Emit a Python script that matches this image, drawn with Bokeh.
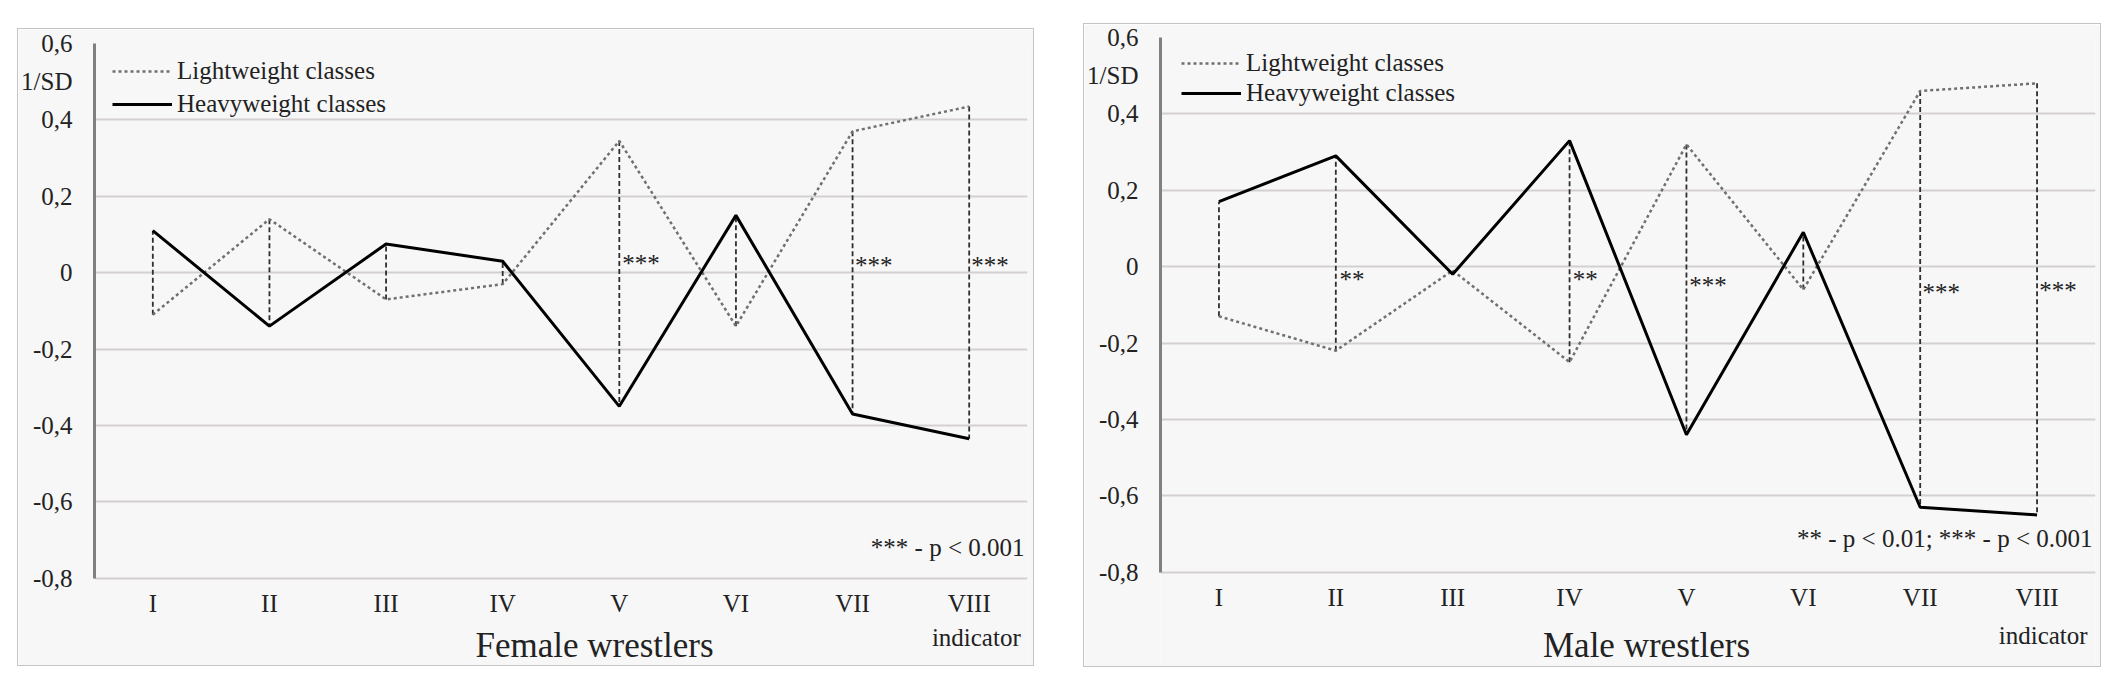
from bokeh.plotting import figure
from bokeh.models import (FactorRange, Range1d, FixedTicker, CustomJSTickFormatter,
                          Legend, LegendItem, Label, ColumnDataSource, Spacer)
from bokeh.layouts import row, column
from bokeh.embed import file_html
from bokeh.resources import INLINE

# ---------------- data ----------------
categories = ["I", "II", "III", "IV", "V", "VI", "VII", "VIII"]
female_light = [-0.11, 0.14, -0.07, -0.03, 0.345, -0.14, 0.37, 0.435]
female_heavy = [0.11, -0.14, 0.075, 0.03, -0.35, 0.15, -0.37, -0.435]
male_light = [-0.13, -0.22, -0.01, -0.25, 0.32, -0.06, 0.46, 0.48]
male_heavy = [0.17, 0.29, -0.02, 0.33, -0.44, 0.09, -0.63, -0.65]

female_sig_cats = ["V", "VII", "VIII"]
female_sig_marks = ["***", "***", "***"]
female_sig_y = [0.035, 0.03, 0.03]
male_sig_cats = ["II", "IV", "V", "VII", "VIII"]
male_sig_marks = ["**", "**", "***", "***", "***"]
male_sig_y = [-0.023, -0.023, -0.04, -0.057, -0.053]

y_ticks = [-0.8, -0.6, -0.4, -0.2, 0, 0.2, 0.4, 0.6]
sd_tick = 0.5
indicator_label = "indicator"
female_title = "Female wrestlers"
male_title = "Male wrestlers"
female_note = "*** - p < 0.001"
male_note = "** - p < 0.01; *** - p < 0.001"
legend_labels = ["Lightweight classes", "Heavyweight classes"]

FONT = "Liberation Serif"
TXT = "#222222"
BG = "#f7f7f8"
PX_PER_UNIT = 533 / 1.4


def text_label(**kw):
    base = dict(text_font=FONT, text_font_size="25px", text_color=TXT,
                text_baseline="middle")
    base.update(kw)
    return Label(**base)


def build(light, heavy, sig_cats, sig_marks, sig_y, title, note,
          fw, fh, mb, title_pos, note_y, ind_pos, leg_loc, leg_h, leg_sp):
    ml, mr, mt = mb
    n = len(categories)
    y_bottom = y_ticks[-1] - fh / PX_PER_UNIT
    p = figure(frame_width=fw, frame_height=fh,
               x_range=FactorRange(*categories, range_padding=0),
               y_range=Range1d(y_bottom, y_ticks[-1]), output_backend="svg",
               toolbar_location=None, min_border_left=ml, min_border_right=mr,
               min_border_top=mt, min_border_bottom=0)
    p.styles = {"border": "1px solid #c4c4c4"}
    p.background_fill_color = BG
    p.border_fill_color = BG
    p.outline_line_color = None

    # grid
    p.xgrid.grid_line_color = None
    p.ygrid.ticker = FixedTicker(ticks=y_ticks)
    p.ygrid.grid_line_color = "#d4cfd1"
    p.ygrid.grid_line_width = 2

    # y axis
    yax = p.yaxis[0]
    yax.ticker = FixedTicker(ticks=y_ticks + [sd_tick])
    yax.bounds = (y_ticks[0], y_ticks[-1])
    yax.formatter = CustomJSTickFormatter(code="""
        if (Math.abs(tick - 0.5) < 1e-9) return "1/SD";
        if (Math.abs(tick) < 1e-9) return "0";
        return tick.toFixed(1).replace(".", ",");
    """)
    yax.axis_line_color = "#808080"
    yax.axis_line_width = 3
    yax.major_tick_line_color = None
    yax.minor_tick_line_color = None
    yax.major_tick_out = 0
    yax.major_tick_in = 0
    yax.major_label_standoff = 22
    yax.major_label_text_font = FONT
    yax.major_label_text_font_size = "25px"
    yax.major_label_text_color = TXT

    # x axis, drawn at the bottom gridline
    xax = p.xaxis[0]
    xax.fixed_location = y_ticks[0]
    xax.axis_line_color = None
    xax.major_tick_line_color = None
    xax.minor_tick_line_color = None
    xax.major_tick_out = 0
    xax.major_tick_in = 0
    xax.major_label_standoff = 12
    xax.major_label_text_font = FONT
    xax.major_label_text_font_size = "25px"
    xax.major_label_text_color = TXT

    # connectors and lines
    src = ColumnDataSource(dict(x=categories, light=light, heavy=heavy))
    p.segment(x0="x", y0="light", x1="x", y1="heavy", source=src,
              line_color="#2e2e2e", line_width=1.8, line_dash="5 3")
    r_light = p.line(x="x", y="light", source=src, line_color="#707070",
                     line_width=2.5, line_dash="3 3")
    r_heavy = p.line(x="x", y="heavy", source=src, line_color="#000000",
                     line_width=3)

    # significance marks (next to their connector)
    for c, m, yv in zip(sig_cats, sig_marks, sig_y):
        idx = categories.index(c)
        p.add_layout(text_label(x=fw * (idx + 0.5) / n + 4, y=yv, x_units="screen",
                                y_units="data", y_offset=-4, text=m,
                                text_align="left"))

    # second line of the last category label
    p.add_layout(text_label(x=fw * (n - 0.5) / n + ind_pos[0], y=ind_pos[1],
                            x_units="screen", y_units="screen", text=indicator_label,
                            text_align="center"))

    legend = Legend(items=[LegendItem(label=legend_labels[0], renderers=[r_light]),
                           LegendItem(label=legend_labels[1], renderers=[r_heavy])],
                    location=leg_loc, padding=0, margin=0, spacing=leg_sp,
                    glyph_width=60, glyph_height=leg_h, label_height=leg_h,
                    label_standoff=5, background_fill_alpha=0, border_line_alpha=0,
                    label_text_font=FONT, label_text_font_size="25px",
                    label_text_color=TXT)
    p.add_layout(legend, "center")

    p.add_layout(text_label(x=fw - 1, y=note_y, x_units="screen", y_units="data",
                            text=note, text_align="right"))
    p.add_layout(text_label(x=title_pos[0], y=title_pos[1], x_units="screen",
                            y_units="screen", text=title, text_align="center",
                            text_font_size="35px"))
    return p


p1 = build(female_light, female_heavy, female_sig_cats, female_sig_marks, female_sig_y,
           female_title, female_note, 931, 622, (72, 8, 14), (500, 22), -0.719, (9, 30),
           (18, 622 - 11 - 63), 30, 3)
p2 = build(male_light, male_heavy, male_sig_cats, male_sig_marks, male_sig_y,
           male_title, male_note, 933, 629, (70, 7, 13), (486, 23), -0.713, (8, 33),
           (21, 629 - 10 - 58), 28, 2)

layout = row(Spacer(width=17),
             column(Spacer(height=28), p1),
             Spacer(width=49),
             column(Spacer(height=23), p2))
open("out.html", "w").write(file_html(layout, INLINE))
